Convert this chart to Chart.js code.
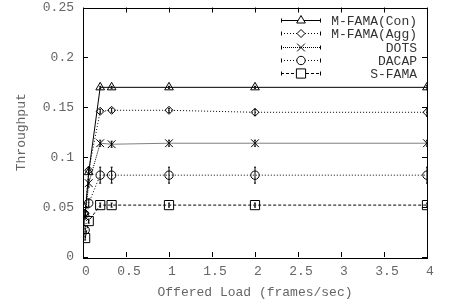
<!DOCTYPE html>
<html>
<head>
<meta charset="utf-8">
<script src="https://cdn.jsdelivr.net/npm/chart.js@4.4.0/dist/chart.umd.min.js"></script>
<style>
html,body{margin:0;padding:0;background:#fff;}
#wrap{width:454px;height:303px;}
</style>
</head>
<body>
<div id="wrap"><canvas id="myChart"></canvas></div>
<script>
/***** data *****/
const loads = [0.025, 0.0667, 0.2, 0.333, 1, 2, 4];
const seriesNames = ['M-FAMA(Con)', 'M-FAMA(Agg)', 'DOTS', 'DACAP', 'S-FAMA'];
const conThr   = [0.043, 0.085, 0.170, 0.170, 0.170, 0.170, 0.170];
const aggThr   = [0.044, 0.087, 0.146, 0.147, 0.147, 0.145, 0.145];
const dotsThr  = [0.040, 0.074, 0.114, 0.113, 0.114, 0.114, 0.114];
const dacapThr = [0.027, 0.054, 0.082, 0.082, 0.082, 0.082, 0.082];
const sfamaThr = [0.019, 0.036, 0.052, 0.052, 0.052, 0.052, 0.052];
const conErr   = [0.002, 0.002, 0.001, 0.001, 0.001, 0.001, 0.002];
const aggErr   = [0.002, 0.003, 0.002, 0.002, 0.002, 0.003, 0.004];
const dotsErr  = [0.002, 0.004, 0.003, 0.003, 0.003, 0.003, 0.003];
const dacapErr = [0.002, 0.004, 0.008, 0.008, 0.008, 0.008, 0.008];
const sfamaErr = [0.002, 0.002, 0.002, 0.002, 0.002, 0.002, 0.002];
const xTicks = [0, 0.5, 1, 1.5, 2, 2.5, 3, 3.5, 4];
const yTicks = [0, 0.05, 0.1, 0.15, 0.2, 0.25];

const txtColor = '#666';
const keyColor = '#333';
const fontFam = '"Liberation Mono", "Courier New", monospace';

function pts(ys){
    return loads.map((x,i)=>({x:x, y:ys[i]}));
}
function fmt(v){
    return String(+Number(v).toFixed(2));
}

const styles = [
    {pointStyle:'triangle', radius:5,   dash:[]},
    {pointStyle:'rectRot',  radius:4,   dash:[1,2]},
    {pointStyle:'crossRot', radius:5.5, dash:[1,1]},
    {pointStyle:'circle',   radius:4.2, dash:[1,2]},
    {pointStyle:'rect',     radius:6.5, dash:[3,2]}
];
const allThr = [conThr, aggThr, dotsThr, dacapThr, sfamaThr];
const allErr = [conErr, aggErr, dotsErr, dacapErr, sfamaErr];

const datasets = seriesNames.map((name,i)=>({
    label: name,
    data: pts(allThr[i]),
    errors: allErr[i],
    borderColor: '#000',
    borderWidth: 1,
    borderDash: styles[i].dash,
    backgroundColor: 'transparent',
    pointStyle: styles[i].pointStyle,
    pointRadius: styles[i].radius,
    pointBorderColor: '#000',
    pointBackgroundColor: 'rgba(0,0,0,0)',
    pointBorderWidth: 1,
    tension: 0,
    fill: false
}));

/***** error bars *****/
const errorBars = {
    id:'errorBars',
    afterDatasetsDraw(chart){
        const ctx = chart.ctx;
        const yScale = chart.scales.y;
        ctx.save();
        ctx.strokeStyle = '#000';
        ctx.lineWidth = 1;
        chart.data.datasets.forEach((ds,i)=>{
            const meta = chart.getDatasetMeta(i);
            meta.data.forEach((p,j)=>{
                const v = ds.data[j].y, e = ds.errors[j];
                const y1 = yScale.getPixelForValue(v-e);
                const y2 = yScale.getPixelForValue(v+e);
                ctx.beginPath();
                ctx.moveTo(p.x, y1); ctx.lineTo(p.x, y2);
                ctx.moveTo(p.x-1, y1); ctx.lineTo(p.x+1, y1);
                ctx.moveTo(p.x-1, y2); ctx.lineTo(p.x+1, y2);
                ctx.stroke();
            });
        });
        ctx.restore();
    }
};

/***** frame with inward ticks *****/
const frame = {
    id:'frame',
    afterDatasetsDraw(chart){
        const ctx = chart.ctx;
        const a = chart.chartArea;
        const xs = chart.scales.x, ys = chart.scales.y;
        ctx.save();
        ctx.strokeStyle = '#000';
        ctx.lineWidth = 1;
        ctx.strokeRect(Math.round(a.left)+0.5, Math.round(a.top)+0.5,
            Math.round(a.right-a.left), Math.round(a.bottom-a.top));
        ctx.beginPath();
        xTicks.forEach(v=>{
            const x = Math.round(xs.getPixelForValue(v))+0.5;
            ctx.moveTo(x, a.bottom); ctx.lineTo(x, a.bottom-5);
            ctx.moveTo(x, a.top); ctx.lineTo(x, a.top+5);
        });
        yTicks.forEach(v=>{
            const y = Math.round(ys.getPixelForValue(v))+0.5;
            ctx.moveTo(a.left, y); ctx.lineTo(a.left+5, y);
            ctx.moveTo(a.right, y); ctx.lineTo(a.right-5, y);
        });
        ctx.stroke();
        ctx.restore();
    }
};

/***** gnuplot style key *****/
const key = {
    id:'key',
    afterDraw(chart){
        const ctx = chart.ctx;
        ctx.save();
        chart.data.datasets.forEach((ds,i)=>{
            const y = Math.round(20 + i*13.33)+0.5;
            ctx.strokeStyle = '#000';
            ctx.lineWidth = 1;
            ctx.setLineDash(ds.borderDash);
            ctx.beginPath();
            ctx.moveTo(281, y); ctx.lineTo(321, y);
            ctx.stroke();
            ctx.setLineDash([]);
            ctx.beginPath();
            ctx.moveTo(281.5, y-2); ctx.lineTo(281.5, y+2);
            ctx.moveTo(320.5, y-2); ctx.lineTo(320.5, y+2);
            ctx.stroke();
            ctx.fillStyle = '#fff';
            Chart.helpers.drawPoint(ctx, {
                pointStyle: ds.pointStyle, radius: ds.pointRadius,
                rotation: 0, borderWidth: 1
            }, 301, y);
            ctx.fillStyle = keyColor;
            ctx.font = '13px ' + fontFam;
            ctx.textAlign = 'right';
            ctx.textBaseline = 'middle';
            ctx.fillText(ds.label, 417, y+1);
        });
        ctx.restore();
    }
};

const config = {
    type:'line',
    data:{datasets:datasets},
    options:{
        responsive:false,
        animation:false,
        layout:{padding:{top:7, right:27, left:0, bottom:0}},
        plugins:{legend:{display:false}, tooltip:{enabled:false}},
        scales:{
            x:{
                type:'linear', min:0, max:4,
                grid:{display:false, drawTicks:false},
                border:{display:false},
                ticks:{stepSize:0.5, color:txtColor, padding:7, callback:fmt, labelOffset:3,
                    font:{family:fontFam, size:13}, maxRotation:0},
                title:{display:true, text:'Offered Load (frames/sec)', color:txtColor,
                    font:{family:fontFam, size:13}, padding:{top:0, bottom:3}},
                afterFit(s){ s.height = 46; s.paddingLeft = 0; s.paddingRight = 0; }
            },
            y:{
                min:0, max:0.25,
                grid:{display:false, drawTicks:false},
                border:{display:false},
                ticks:{stepSize:0.05, color:txtColor, padding:9, callback:fmt,
                    font:{family:fontFam, size:13}},
                title:{display:true, text:'Throughput', color:txtColor,
                    font:{family:fontFam, size:13}, padding:{top:14, bottom:0}},
                afterFit(s){ s.width = 83; s.paddingTop = 0; s.paddingBottom = 0; }
            }
        }
    },
    plugins:[errorBars, frame, key]
};

const canvas = document.getElementById('myChart');
canvas.width = 454; canvas.height = 303;
const myChart = new Chart(canvas, config);
</script>
</body>
</html>
